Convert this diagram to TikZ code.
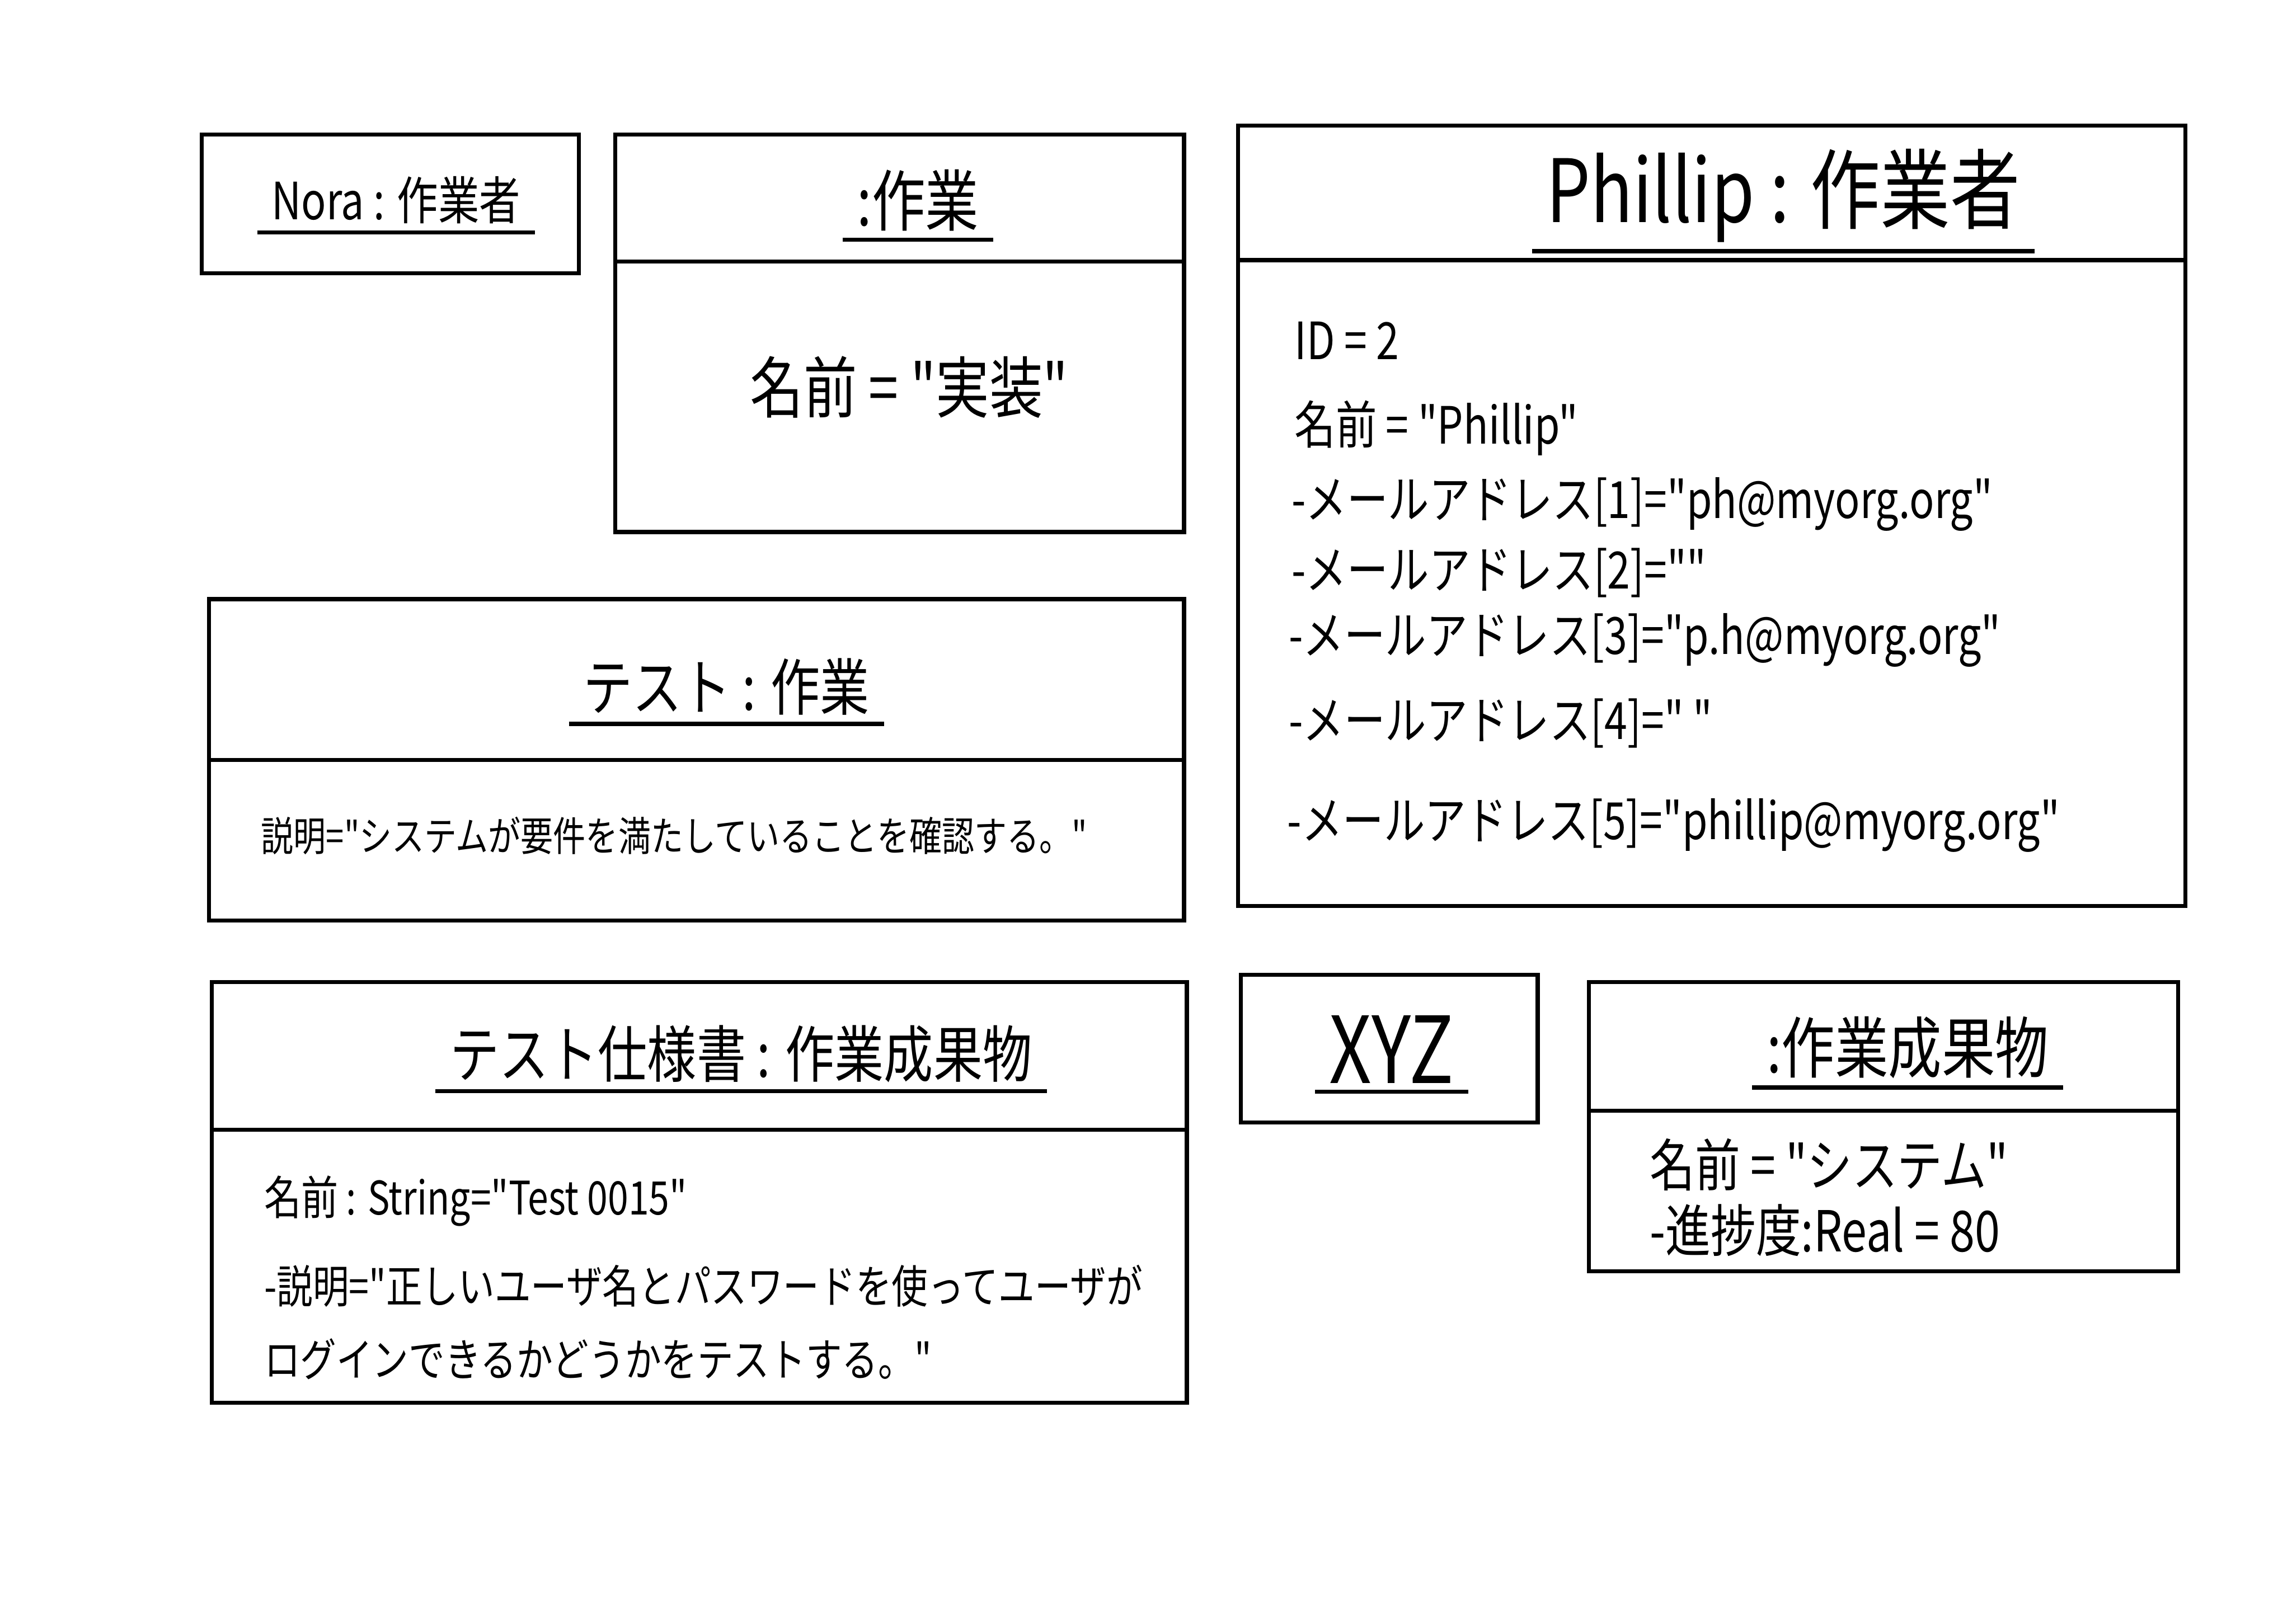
\documentclass[tikz,border=0pt]{standalone}
\usepackage{fontspec}
\setmainfont{Noto Sans CJK JP}[FakeStretch=0.8, Ligatures=TeXOff]
\usetikzlibrary{positioning}

\begin{document}
\begin{tikzpicture}[
        x=0.1mm, y=-0.1mm,
        objbox/.style={draw, rectangle, line width=0.8pt, inner sep=0pt, outer sep=0pt},
        objname/.style={inner sep=1.5pt},
        attr/.style={anchor=west, inner sep=0pt},
        uline/.style={line width=0.8pt}
    ]
    \useasboundingbox (0,0) rectangle (1568,1111);

    % Top row
    \node[objbox, minimum width=25.8mm, minimum height=9.5mm] (nora) at (267,139.5) {};
    \node[objbox, minimum width=38.9mm, minimum height=8.7mm] (taskH) at (615.5,135.5) {};
    \node[objbox, below=0pt of taskH, minimum width=38.9mm, minimum height=18.5mm] (taskB) {};
    \node[objbox, minimum width=64.8mm, minimum height=9.2mm] (philH) at (1171,132) {};
    \node[objbox, below=0pt of philH, minimum width=64.8mm, minimum height=44.2mm] (philB) {};

    % Middle row
    \node[objbox, minimum width=66.7mm, minimum height=11mm] (testH) at (476.5,465) {};
    \node[objbox, below=0pt of testH, minimum width=66.7mm, minimum height=11mm] (testB) {};

    % Bottom row
    \node[objbox, minimum width=66.7mm, minimum height=10.1mm] (specH) at (478.5,722.5) {};
    \node[objbox, below=0pt of specH, minimum width=66.7mm, minimum height=18.7mm] (specB) {};
    \node[objbox, minimum width=20.3mm, minimum height=10.1mm] (xyz) at (950.5,717.5) {};
    \node[objbox, minimum width=40.3mm, minimum height=8.8mm] (artH) at (1288.5,716) {};
    \node[objbox, below=0pt of artH, minimum width=40.3mm, minimum height=11mm] (artB) {};

    % Object names
    \node[objname, font=\fontsize{10}{12}\selectfont] (noraT) at (271,137) {Nora : 作業者};
    \node[objname, font=\fontsize{13}{15}\selectfont] (taskT) at (628,137) {:作業};
    \node[objname, font=\fontsize{17}{20}\selectfont] (philT) at (1220,134) {Phillip : 作業者};
    \node[objname, font=\fontsize{12}{14}\selectfont] (testT) at (497,470) {テスト : 作業};
    \node[objname, font=\fontsize{12}{14}\selectfont] (specT) at (507,721) {テスト仕様書 : 作業成果物};
    \node[objname, font=\fontsize{18}{21}\selectfont] (xyzT) at (952,718) {XYZ};
    \node[objname, font=\fontsize{13}{15}\selectfont] (artT) at (1305,717) {:作業成果物};

    \foreach \t in {noraT,taskT,philT,testT,specT,xyzT,artT}
        \draw[uline] ([xshift=-0.4mm]\t.south west) -- ([xshift=0.4mm]\t.south east);

    % Attributes
    \node[font=\fontsize{13}{15}\selectfont] (taskA) at (622,265) {名前 = "実装"};

    \node[attr, font=\fontsize{10}{12}\selectfont] (philA1) at (885,233) {ID = 2};
    \node[attr, font=\fontsize{10}{12}\selectfont] (philA2) at (885,293) {名前 = "Phillip"};
    \node[attr, font=\fontsize{10}{12}\selectfont] (philA3) at (883,345) {-メールアドレス[1]="ph@myorg.org"};
    \node[attr, font=\fontsize{10}{12}\selectfont] (philA4) at (883,392) {-メールアドレス[2]=""};
    \node[attr, font=\fontsize{10}{12}\selectfont] (philA5) at (881,438) {-メールアドレス[3]="p.h@myorg.org"};
    \node[attr, font=\fontsize{10}{12}\selectfont] (philA6) at (881,495) {-メールアドレス[4]=" "};
    \node[attr, font=\fontsize{10}{12}\selectfont] (philA7) at (880,565) {-メールアドレス[5]="phillip@myorg.org"};

    \node[attr, font=\fontsize{7.9}{9}\selectfont] (testA) at (178,572) {説明="システムが要件を満たしていることを確認する。"};

    \node[attr, font=\fontsize{9}{11}\selectfont] (specA1) at (180,822) {名前 : String="Test 0015"};
    \node[attr, font=\fontsize{8.8}{11}\selectfont] (specA2) at (180,880) {-説明="正しいユーザ名とパスワードを使ってユーザが};
    \node[attr, font=\fontsize{8.8}{11}\selectfont] (specA3) at (180,930) {ログインできるかどうかをテストする。"};

    \node[attr, font=\fontsize{11}{13}\selectfont] (artA1) at (1128,797) {名前 = "システム"};
    \node[attr, font=\fontsize{11}{13}\selectfont] (artA2) at (1128,842) {-進捗度:Real = 80};

\end{tikzpicture}
\end{document}
